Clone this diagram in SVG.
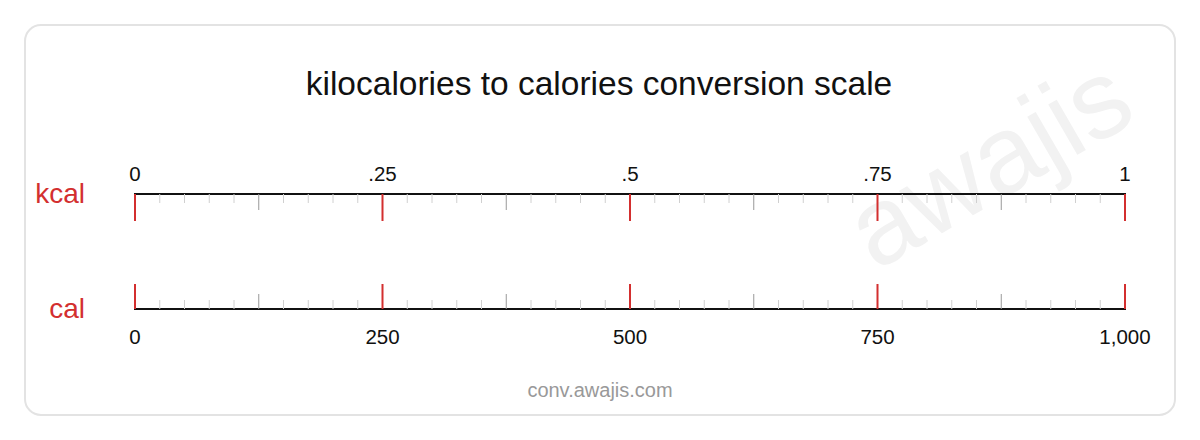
<svg xmlns="http://www.w3.org/2000/svg" width="1200" height="440" viewBox="0 0 1200 440">
<style>
text{font-family:"Liberation Sans",Arial,sans-serif}
.unit{fill:#d32f2f;font-size:28px;text-anchor:end}
.lbl{fill:#111;font-size:20.5px;text-anchor:middle}
.axis{stroke:#111;stroke-width:2}
.maj{stroke:#d32f2f;stroke-width:2}
.min{stroke:#d0d0d0;stroke-width:1}
.mid{stroke:#999;stroke-width:1}
</style>
<rect x="25" y="25" width="1150" height="390" rx="16" fill="#fff" stroke="#e3e3e3" stroke-width="2"/>
<text x="990" y="200" transform="rotate(-30 990 165)" font-size="110" fill="#f2f2f2" text-anchor="middle">awajis</text>
<text x="599" y="95" font-size="33.5" fill="#111" text-anchor="middle">kilocalories to calories conversion scale</text>
<g id="kcal">
<text class="unit" x="85" y="203">kcal</text>
<line class="axis" x1="134" y1="194" x2="1126" y2="194"/>
<g class="min">
<path d="M159.75 194v9M184.5 194v9M209.25 194v9M234 194v9M283.5 194v9M308.25 194v9M333 194v9M357.75 194v9M407.25 194v9M432 194v9M456.75 194v9M481.5 194v9M531 194v9M555.75 194v9M580.5 194v9M605.25 194v9M654.75 194v9M679.5 194v9M704.25 194v9M729 194v9M778.5 194v9M803.25 194v9M828 194v9M852.75 194v9M902.25 194v9M927 194v9M951.75 194v9M976.5 194v9M1026 194v9M1050.75 194v9M1075.5 194v9M1100.25 194v9"/>
</g>
<path class="mid" d="M258.75 194v16M506.25 194v16M753.75 194v16M1001.25 194v16"/>
<path class="maj" d="M135 194v27M382.5 194v27M630 194v27M877.5 194v27M1125 194v27"/>
<text class="lbl" x="135" y="181">0</text>
<text class="lbl" x="382.5" y="181">.25</text>
<text class="lbl" x="630" y="181">.5</text>
<text class="lbl" x="877.5" y="181">.75</text>
<text class="lbl" x="1125" y="181">1</text>
</g>
<g id="cal">
<text class="unit" x="85" y="318">cal</text>
<line class="axis" x1="134" y1="309" x2="1126" y2="309"/>
<g class="min">
<path d="M159.75 309v-9M184.5 309v-9M209.25 309v-9M234 309v-9M283.5 309v-9M308.25 309v-9M333 309v-9M357.75 309v-9M407.25 309v-9M432 309v-9M456.75 309v-9M481.5 309v-9M531 309v-9M555.75 309v-9M580.5 309v-9M605.25 309v-9M654.75 309v-9M679.5 309v-9M704.25 309v-9M729 309v-9M778.5 309v-9M803.25 309v-9M828 309v-9M852.75 309v-9M902.25 309v-9M927 309v-9M951.75 309v-9M976.5 309v-9M1026 309v-9M1050.75 309v-9M1075.5 309v-9M1100.25 309v-9"/>
</g>
<path class="mid" d="M258.75 309v-15M506.25 309v-15M753.75 309v-15M1001.25 309v-15"/>
<path class="maj" d="M135 309v-25M382.5 309v-25M630 309v-25M877.5 309v-25M1125 309v-25"/>
<text class="lbl" x="135" y="344">0</text>
<text class="lbl" x="382.5" y="344">250</text>
<text class="lbl" x="630" y="344">500</text>
<text class="lbl" x="877.5" y="344">750</text>
<text class="lbl" x="1125" y="344">1,000</text>
</g>
<text x="600" y="397" font-size="20" fill="#999" text-anchor="middle">conv.awajis.com</text>
</svg>
